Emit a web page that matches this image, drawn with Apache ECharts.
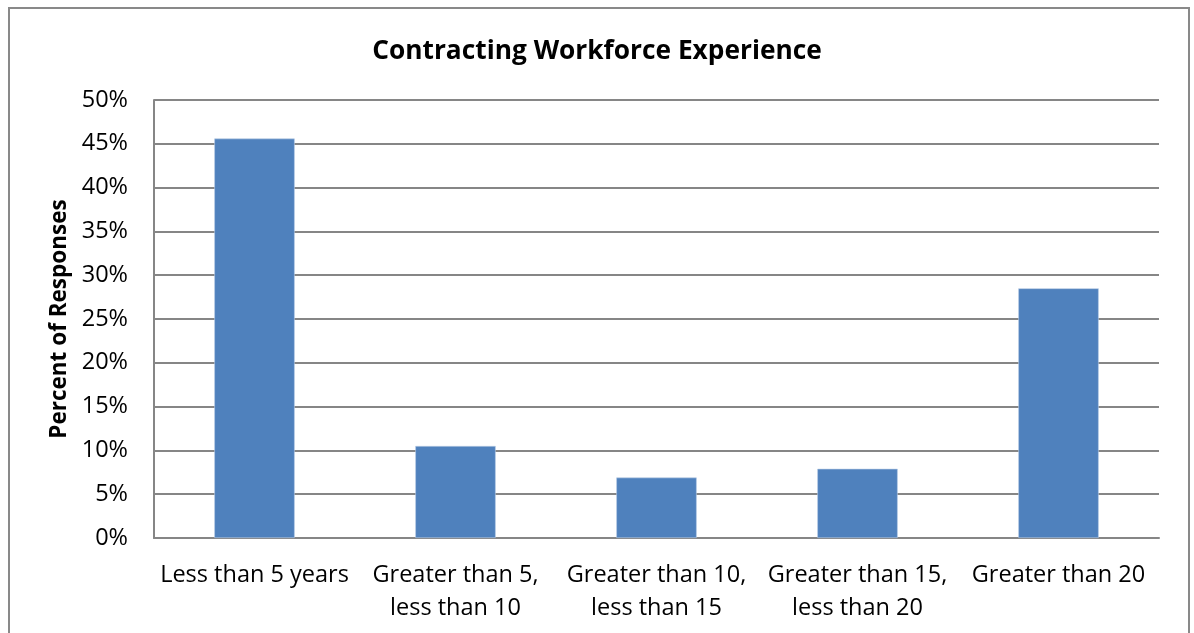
<!DOCTYPE html>
<html>
<head>
<meta charset="utf-8">
<script src="https://cdn.jsdelivr.net/npm/echarts@6/dist/echarts.min.js"></script>
<style>
  html, body { margin: 0; padding: 0; background: #fff; }
  #chart { width: 1194px; height: 633px; }
</style>
</head>
<body>
<div id="chart"></div>
<script>
// Survey answers: years of experience in the contracting workforce
const categories = [
  'Less than 5 years',
  'Greater than 5,\nless than 10',
  'Greater than 10,\nless than 15',
  'Greater than 15,\nless than 20',
  'Greater than 20'
];
const percentResponses = [45.6, 10.5, 6.9, 7.9, 28.5];
const yTicks = { min: 0, max: 50, step: 5 };

const FONT = '"Open Sans", "Noto Sans", sans-serif';

const chart = echarts.init(document.getElementById('chart'), null, { renderer: 'canvas' });

chart.setOption({
  animation: false,
  backgroundColor: '#ffffff',
  title: {
    text: 'Contracting Workforce Experience',
    left: 'center',
    top: 34,
    textStyle: { fontFamily: FONT, fontSize: 26.3, fontWeight: 'bold', color: '#000' }
  },
  graphic: [{
    type: 'rect',
    shape: { x: 9, y: 8, width: 1180, height: 640 },
    style: { fill: 'none', stroke: '#898989', lineWidth: 2 },
    silent: true
  }],
  grid: { left: 154, right: 35, top: 100, bottom: 95 },
  xAxis: {
    type: 'category',
    data: categories,
    axisLine: { show: true, lineStyle: { color: '#868686', width: 2 } },
    axisTick: { show: false },
    axisLabel: {
      interval: 0,
      margin: 21,
      color: '#000',
      fontFamily: FONT,
      fontSize: 23.5,
      lineHeight: 33
    }
  },
  yAxis: {
    type: 'value',
    min: yTicks.min,
    max: yTicks.max,
    interval: yTicks.step,
    name: 'Percent of Responses',
    nameLocation: 'middle',
    nameGap: 77,
    nameTextStyle: { fontFamily: FONT, fontSize: 22.5, fontWeight: 'bold', color: '#000' },
    axisLine: { show: true, lineStyle: { color: '#868686', width: 2 } },
    axisTick: { show: false },
    splitLine: { show: true, lineStyle: { color: '#868686', width: 2 } },
    axisLabel: {
      formatter: v => v + '%',
      margin: 26,
      color: '#000',
      fontFamily: FONT,
      fontSize: 23.5
    }
  },
  series: [{
    type: 'bar',
    data: percentResponses,
    barWidth: '40%',
    itemStyle: { color: '#4f81bd', borderColor: '#b9cde5', borderWidth: 0.6 }
  }]
});
</script>
</body>
</html>
